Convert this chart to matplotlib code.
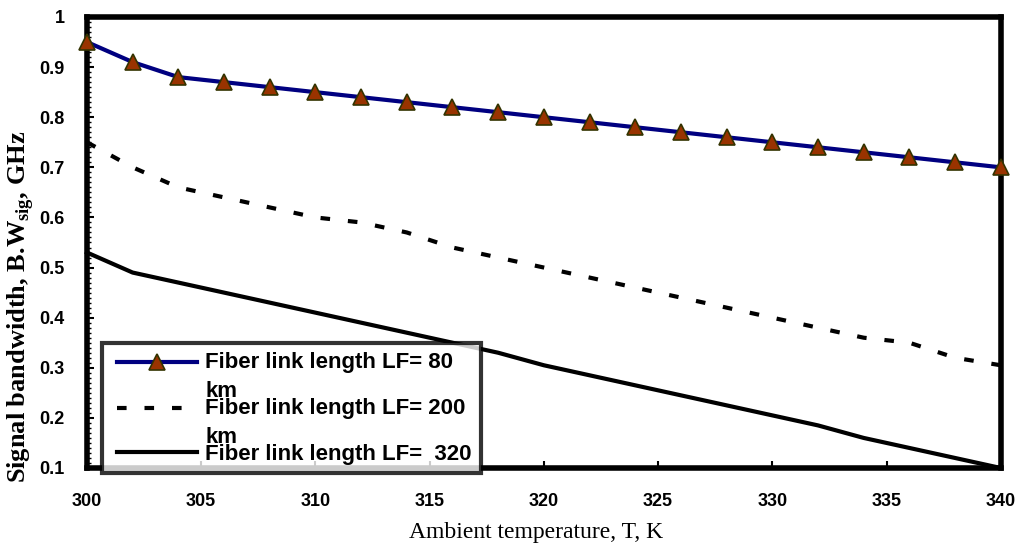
import numpy as np
import matplotlib.pyplot as plt
from matplotlib.legend_handler import HandlerLine2D
from matplotlib.ticker import MultipleLocator

temps = [300, 302, 304, 306, 308, 310, 312, 314, 316, 318, 320,
         322, 324, 326, 328, 330, 332, 334, 336, 338, 340]
bw_80 = [0.95, 0.91, 0.88, 0.87, 0.86, 0.85, 0.84, 0.83, 0.82, 0.81, 0.80,
         0.79, 0.78, 0.77, 0.76, 0.75, 0.74, 0.73, 0.72, 0.71, 0.70]
bw_200 = [0.75, 0.70, 0.66, 0.64, 0.62, 0.60, 0.59, 0.57, 0.54, 0.52, 0.50,
          0.48, 0.46, 0.44, 0.42, 0.40, 0.38, 0.36, 0.35, 0.32, 0.305]
bw_320 = [0.53, 0.49, 0.47, 0.45, 0.43, 0.41, 0.39, 0.37, 0.35, 0.33, 0.305,
          0.285, 0.265, 0.245, 0.225, 0.205, 0.185, 0.16, 0.14, 0.12, 0.10]
labels = ["Fiber link length LF= 80\nkm",
          "Fiber link length LF= 200\nkm",
          "Fiber link length LF=  320"]

plt.rcParams["mathtext.fontset"] = "custom"
plt.rcParams["mathtext.bf"] = "Liberation Serif:bold"
plt.rcParams["mathtext.rm"] = "Liberation Serif:bold"


class ShiftedLineHandler(HandlerLine2D):
    # legend sample: lifted to the first line of a two-line label,
    # and started a bit to the right like the original
    def __init__(self, lift=0.0, indent=0.0, **kw):
        super().__init__(**kw)
        self.lift = lift
        self.indent = indent

    def create_artists(self, legend, orig_handle, xdescent, ydescent,
                       width, height, fontsize, trans):
        return super().create_artists(legend, orig_handle,
                                      xdescent - self.indent,
                                      ydescent - 2 * self.lift,
                                      width - self.indent, height,
                                      fontsize, trans)


fig = plt.figure(figsize=(10.17, 5.48), dpi=100)
ax = fig.add_axes([0.0855, 0.146, 0.8985, 0.823])

l1, = ax.plot(temps, bw_80, color="#000080", lw=3, marker="^", ms=11,
              mfc="#993300", mec="#333300", mew=1.2, clip_on=False, zorder=4)
l2, = ax.plot(temps, bw_200, color="black", lw=3, ls=(0, (2.3, 4.3)),
              clip_on=False)
l3, = ax.plot(temps, bw_320, color="black", lw=3, clip_on=False)

ax.set_xlim(300, 340)
ax.set_ylim(0.1, 1.0)
ax.xaxis.set_major_locator(MultipleLocator(5))
ax.yaxis.set_minor_locator(MultipleLocator(0.01))
ax.set_yticks(np.arange(0.1, 1.01, 0.1))
ax.set_yticklabels(["0.1", "0.2", "0.3", "0.4", "0.5", "0.6", "0.7", "0.8", "0.9", "1"])

for s in ax.spines.values():
    s.set_linewidth(4)
ax.tick_params(which="major", direction="in", length=5, width=1.5)
ax.tick_params(axis="y", which="major", pad=16)
ax.tick_params(axis="x", which="major", pad=18)
ax.tick_params(which="minor", direction="in", length=3, width=1)
ax.tick_params(axis="x", which="minor", length=0)
for t in ax.get_xticklabels() + ax.get_yticklabels():
    t.set_fontfamily("Liberation Sans")
    t.set_fontweight("bold")
    t.set_fontsize(13)

ax.set_xlabel("Ambient temperature, T, K", family="Liberation Serif",
              fontsize=17, va="center")
ax.xaxis.set_label_coords(0.491, -0.142)
ax.set_ylabel(r"Signal bandwidth, B.W$_{\mathrm{sig}}$, GHz", family="Liberation Serif",
              fontsize=19, fontweight="bold", va="center")
ax.yaxis.set_label_coords(-0.073, 0.357)

fs = 16
lift = 10.8
indent = 5
leg = ax.legend([l1, l2, l3], labels, loc="upper left",
                bbox_to_anchor=(0.016, 0.278), frameon=True, fancybox=False,
                prop={"family": "Liberation Sans", "weight": "bold", "size": fs},
                handlelength=3.9, handletextpad=0.36, labelspacing=-0.18,
                borderpad=0.4, borderaxespad=0,
                handler_map={l1: ShiftedLineHandler(lift, indent),
                             l2: ShiftedLineHandler(lift, indent),
                             l3: ShiftedLineHandler(0, indent)})
for t in leg.get_texts():
    t.set_linespacing(1.5)
leg.get_frame().set_edgecolor("black")
leg.get_frame().set_linewidth(3)
leg.set_zorder(5)

fig.savefig("out.png", dpi=100)
